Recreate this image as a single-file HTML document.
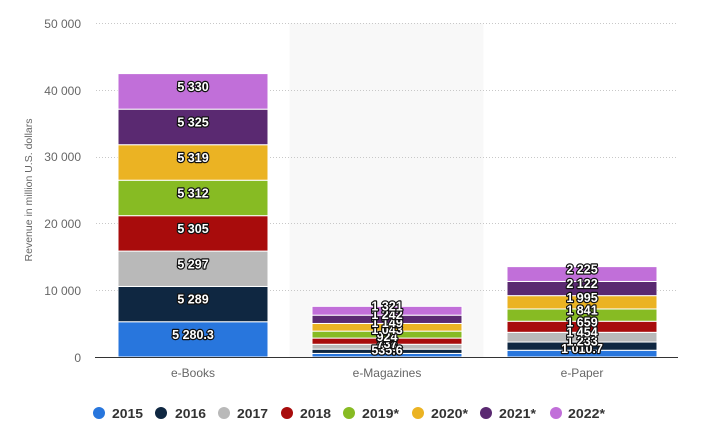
<!DOCTYPE html>
<html>
<head>
<meta charset="utf-8">
<style>
  html,body{margin:0;padding:0;background:#fff;}
  svg{display:block;}
  text{font-family:"Liberation Sans",Arial,sans-serif;}
  .yl{font-size:12px;fill:#666;text-anchor:end;}
  .cl{font-size:12px;fill:#666;text-anchor:middle;}
  .dl{font-size:12.5px;font-weight:bold;fill:#fff;text-anchor:middle;stroke:#111;stroke-width:2.4px;stroke-linejoin:round;paint-order:stroke;}
  .lg{font-size:13px;font-weight:bold;fill:#333;}
  .seg{stroke:#fff;stroke-width:1;}
</style>
</head>
<body>
<svg width="704" height="438" viewBox="0 0 704 438" xmlns="http://www.w3.org/2000/svg">
  <rect x="289.5" y="23.25" width="194" height="334" fill="#f8f8f8"/>
  <g stroke="#c8c8c8" stroke-width="1" stroke-dasharray="1,2">
    <line x1="96" y1="23.5" x2="678" y2="23.5"/>
    <line x1="96" y1="90.5" x2="678" y2="90.5"/>
    <line x1="96" y1="157.5" x2="678" y2="157.5"/>
    <line x1="96" y1="223.5" x2="678" y2="223.5"/>
    <line x1="96" y1="290.5" x2="678" y2="290.5"/>
  </g>
  <text class="yl" x="81" y="28">50 000</text>
  <text class="yl" x="81" y="95">40 000</text>
  <text class="yl" x="81" y="161">30 000</text>
  <text class="yl" x="81" y="228">20 000</text>
  <text class="yl" x="81" y="295">10 000</text>
  <text class="yl" x="81" y="362">0</text>
  <text x="0" y="0" transform="translate(32,190) rotate(-90)" style="font-size:10.5px;fill:#666;text-anchor:middle;">Revenue in million U.S. dollars</text>

  <g class="seg">
    <rect x="118" y="321.75" width="150" height="35.25" fill="#2876dd"/>
    <rect x="118" y="286.45" width="150" height="35.3" fill="#0f2741"/>
    <rect x="118" y="251.09" width="150" height="35.36" fill="#b9b9b9"/>
    <rect x="118" y="215.68" width="150" height="35.41" fill="#a80c0c"/>
    <rect x="118" y="180.22" width="150" height="35.46" fill="#87bb23"/>
    <rect x="118" y="144.72" width="150" height="35.5" fill="#ebb323"/>
    <rect x="118" y="109.17" width="150" height="35.55" fill="#5a2971"/>
    <rect x="118" y="73.6" width="150" height="35.57" fill="#c16fd9"/>
  </g>
  <g class="seg">
    <rect x="312" y="353.42" width="150" height="3.58" fill="#2876dd"/>
    <rect x="312" y="349.18" width="150" height="4.24" fill="#0f2741"/>
    <rect x="312" y="344.26" width="150" height="4.92" fill="#b9b9b9"/>
    <rect x="312" y="338.09" width="150" height="6.17" fill="#a80c0c"/>
    <rect x="312" y="331.13" width="150" height="6.96" fill="#87bb23"/>
    <rect x="312" y="323.46" width="150" height="7.67" fill="#ebb323"/>
    <rect x="312" y="315.17" width="150" height="8.29" fill="#5a2971"/>
    <rect x="312" y="306.35" width="150" height="8.82" fill="#c16fd9"/>
  </g>
  <g class="seg">
    <rect x="507" y="350.25" width="150" height="6.75" fill="#2876dd"/>
    <rect x="507" y="342.02" width="150" height="8.23" fill="#0f2741"/>
    <rect x="507" y="332.32" width="150" height="9.7" fill="#b9b9b9"/>
    <rect x="507" y="321.24" width="150" height="11.08" fill="#a80c0c"/>
    <rect x="507" y="308.95" width="150" height="12.29" fill="#87bb23"/>
    <rect x="507" y="295.64" width="150" height="13.31" fill="#ebb323"/>
    <rect x="507" y="281.47" width="150" height="14.17" fill="#5a2971"/>
    <rect x="507" y="266.62" width="150" height="14.85" fill="#c16fd9"/>
  </g>

  <line x1="95" y1="357.5" x2="678" y2="357.5" stroke="#333" stroke-width="1"/>

  <text class="dl" x="193" y="339">5 280.3</text>
  <text class="dl" x="193" y="303.6">5 289</text>
  <text class="dl" x="193" y="268.3">5 297</text>
  <text class="dl" x="193" y="232.9">5 305</text>
  <text class="dl" x="193" y="197.5">5 312</text>
  <text class="dl" x="193" y="162">5 319</text>
  <text class="dl" x="193" y="126.4">5 325</text>
  <text class="dl" x="193" y="90.9">5 330</text>

  <text class="dl" x="387" y="351.2">636</text>
  <text class="dl" x="387" y="354.7">535.6</text>
  <text class="dl" x="387" y="348.2">737</text>
  <text class="dl" x="387" y="341.2">924</text>
  <text class="dl" x="387" y="334.1">1 043</text>
  <text class="dl" x="387" y="326.8">1 149</text>
  <text class="dl" x="387" y="318.8">1 242</text>
  <text class="dl" x="387" y="310.3">1 321</text>

  <text class="dl" x="582" y="353.1">1 010.7</text>
  <text class="dl" x="582" y="345.6">1 233</text>
  <text class="dl" x="582" y="336.7">1 454</text>
  <text class="dl" x="582" y="326.3">1 659</text>
  <text class="dl" x="582" y="314.6">1 841</text>
  <text class="dl" x="582" y="301.8">1 995</text>
  <text class="dl" x="582" y="288.1">2 122</text>
  <text class="dl" x="582" y="273.5">2 225</text>

  <text class="cl" x="193" y="377">e-Books</text>
  <text class="cl" x="387" y="377">e-Magazines</text>
  <text class="cl" x="582" y="377">e-Paper</text>

  <circle cx="99" cy="413" r="6" fill="#2876dd"/>
  <text class="lg" x="112" y="418" textLength="31" lengthAdjust="spacingAndGlyphs">2015</text>
  <circle cx="161" cy="413" r="6" fill="#0f2741"/>
  <text class="lg" x="175" y="418" textLength="31" lengthAdjust="spacingAndGlyphs">2016</text>
  <circle cx="224" cy="413" r="6" fill="#b9b9b9"/>
  <text class="lg" x="237" y="418" textLength="31" lengthAdjust="spacingAndGlyphs">2017</text>
  <circle cx="287" cy="413" r="6" fill="#a80c0c"/>
  <text class="lg" x="300" y="418" textLength="31" lengthAdjust="spacingAndGlyphs">2018</text>
  <circle cx="349" cy="413" r="6" fill="#87bb23"/>
  <text class="lg" x="362" y="418" textLength="37" lengthAdjust="spacingAndGlyphs">2019*</text>
  <circle cx="418" cy="413" r="6" fill="#ebb323"/>
  <text class="lg" x="431" y="418" textLength="37" lengthAdjust="spacingAndGlyphs">2020*</text>
  <circle cx="486" cy="413" r="6" fill="#5a2971"/>
  <text class="lg" x="499" y="418" textLength="37" lengthAdjust="spacingAndGlyphs">2021*</text>
  <circle cx="556" cy="413" r="6" fill="#c16fd9"/>
  <text class="lg" x="568" y="418" textLength="37" lengthAdjust="spacingAndGlyphs">2022*</text>
</svg>
</body>
</html>
